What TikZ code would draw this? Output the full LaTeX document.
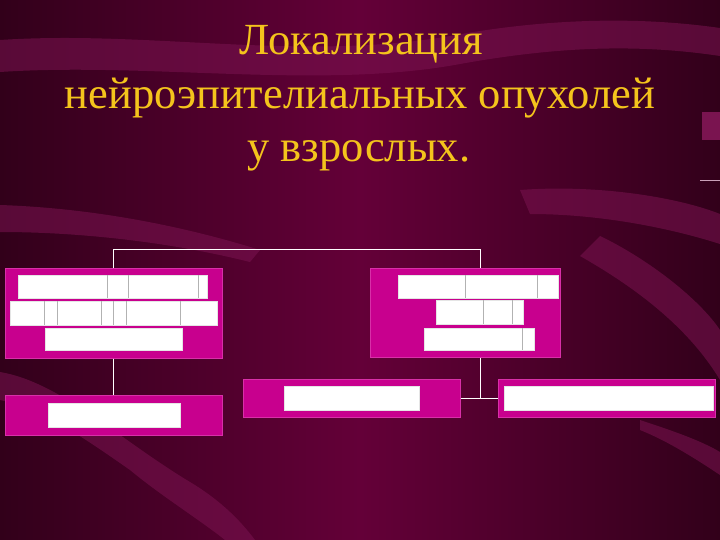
\documentclass[tikz,border=0pt]{standalone}
\usepackage{fontspec}
\setmainfont{Liberation Serif}
\usepackage{tikz}

\definecolor{bgmid}{HTML}{640038}
\definecolor{bgedge}{HTML}{32001A}
\definecolor{bgband}{HTML}{7A1450}
\definecolor{boxfill}{HTML}{C8008E}
\definecolor{boxedge}{HTML}{D830A8}
\definecolor{titlegold}{HTML}{F4C41C}

\tikzset{
  blockbox/.style={draw=boxedge, line width=1pt, fill=boxfill, inner sep=0pt},
  whitebar/.style={fill=white, draw=white!80!gray, line width=0.4pt, inner sep=0pt},
  titleline/.style={text=titlegold, font=\fontsize{44.5}{53}\selectfont, anchor=base, inner sep=0pt},
  ribbon/.style={fill=bgband, fill opacity=0.55},
  link/.style={draw=white, line width=0.8pt}
}

\begin{document}
\begin{tikzpicture}[x=1pt, y=-1pt]

% Background
\shade[left color=bgedge, right color=bgedge, middle color=bgmid] (0,0) rectangle (720,540);
\useasboundingbox (0,0) rectangle (720,540);
\fill[ribbon] (0,40) .. controls (150,30) and (300,62) .. (450,36)
  .. controls (560,16) and (650,18) .. (720,28) -- (720,56)
  .. controls (640,44) and (560,46) .. (460,64)
  .. controls (320,90) and (150,62) .. (0,72) -- cycle;
\fill[ribbon] (0,205) .. controls (90,208) and (180,225) .. (260,250) -- (250,262)
  .. controls (170,242) and (80,232) .. (0,232) -- cycle;
\fill[ribbon] (520,190) .. controls (600,184) and (680,198) .. (720,214) -- (720,244)
  .. controls (670,228) and (600,214) .. (530,214) -- cycle;
\fill[ribbon] (600,236) .. controls (650,260) and (700,300) .. (720,330) -- (720,380)
  .. controls (690,330) and (640,290) .. (580,256) -- cycle;
\fill[ribbon] (0,372) .. controls (60,382) and (120,440) .. (190,482)
  .. controls (220,500) and (240,520) .. (255,540) -- (225,540)
  .. controls (200,520) and (160,495) .. (130,470)
  .. controls (80,435) and (40,408) .. (0,400) -- cycle;
\fill[ribbon] (640,420) .. controls (670,430) and (700,440) .. (720,452) -- (720,475)
  .. controls (690,455) and (665,440) .. (640,430) -- cycle;
\fill[bgband] (702,112) rectangle (720,140);
\draw[white!60!bgband, line width=0.6pt] (700,180) -- (720,180);

% Title
\node[titleline] (title1) at (361,55) {Локализация};
\node[titleline] (title2) at (360,109) {нейроэпителиальных опухолей};
\node[titleline] (title3) at (359,162) {у взрослых.};

% Boxes
\node[blockbox, minimum width=217pt, minimum height=90pt] (lb1) at (113.5,313) {};
\node[blockbox, minimum width=217pt, minimum height=40pt] (lb2) at (113.5,415) {};
\node[blockbox, minimum width=190pt, minimum height=89pt] (rb1) at (465,312.5) {};
\node[blockbox, minimum width=217pt, minimum height=38pt] (mb) at (351.5,398) {};
\node[blockbox, minimum width=217pt, minimum height=38pt] (rb3) at (606.5,398) {};

% White bars inside the boxes
\node[whitebar, minimum width=189pt, minimum height=23pt] (lb1a) at (112.5,286.5) {};
\node[whitebar, minimum width=207pt, minimum height=24pt] (lb1b) at (113.5,313) {};
\node[whitebar, minimum width=137pt, minimum height=22pt] (lb1c) at (113.5,339) {};
\node[whitebar, minimum width=132pt, minimum height=24pt] (lb2a) at (114,415) {};
\node[whitebar, minimum width=160pt, minimum height=23pt] (rb1a) at (478,286.5) {};
\node[whitebar, minimum width=87pt, minimum height=24pt] (rb1b) at (479.5,312) {};
\node[whitebar, minimum width=110pt, minimum height=22pt] (rb1c) at (479,339) {};
\node[whitebar, minimum width=135pt, minimum height=24pt] (mba) at (351.5,398) {};
\node[whitebar, minimum width=209pt, minimum height=24pt] (rb3a) at (608.5,398) {};

% Cell lines in the bars
\foreach \x in {107,128,198}
  \draw[gray!60, line width=0.3pt] (\x,275) -- (\x,298);
\foreach \x in {44,57,101,113,126,180}
  \draw[gray!60, line width=0.3pt] (\x,301) -- (\x,325);
\foreach \x in {465,537}
  \draw[gray!60, line width=0.3pt] (\x,275) -- (\x,298);
\foreach \x in {483,512}
  \draw[gray!60, line width=0.3pt] (\x,300) -- (\x,324);
\draw[gray!60, line width=0.3pt] (522,328) -- (522,350);

% Connectors
\draw[link] (lb1.north) -- ++(0,-18) -| ([xshift=15pt]rb1.north);
\draw[link] (lb1.south) -- (lb2.north);
\draw[link] ([xshift=15pt]rb1.south) -- ([xshift=15pt]rb1.south |- mb.east);
\draw[link] (mb.east) -- (rb3.west);

\end{tikzpicture}
\end{document}
